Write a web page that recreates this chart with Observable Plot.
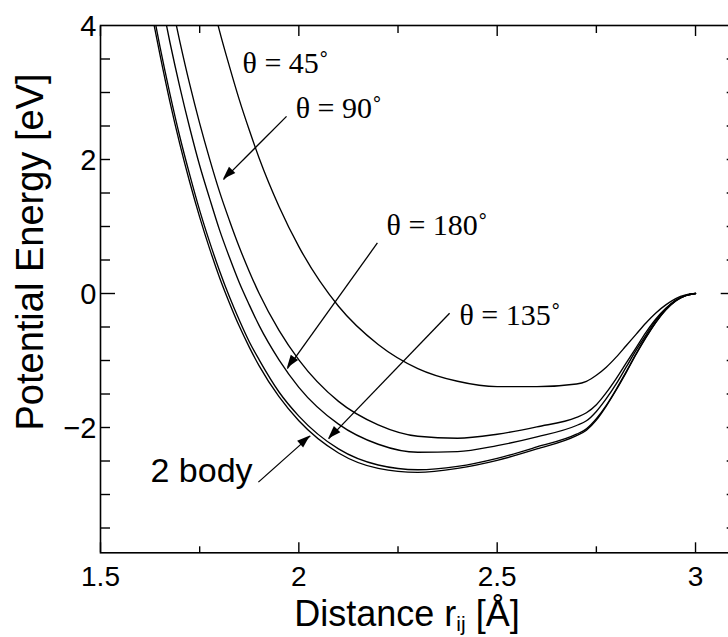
<!DOCTYPE html>
<html>
<head>
<meta charset="utf-8">
<script src="https://cdn.jsdelivr.net/npm/d3@7"></script>
<script src="https://cdn.jsdelivr.net/npm/@observablehq/plot@0.6"></script>
<style>
html, body { margin: 0; padding: 0; background: #fff; overflow: hidden; }
#chart svg { display: block; }
</style>
</head>
<body>
<div id="chart"></div>
<script>
// ---- data ----
const distance = [1.63, 1.65, 1.675, 1.70, 1.725, 1.75, 1.775, 1.80, 1.825, 1.85, 1.875, 1.90, 1.95, 2.00,
  2.10, 2.20, 2.30, 2.40, 2.50, 2.60, 2.70, 2.725, 2.75, 2.775, 2.80, 2.825, 2.85, 2.875, 2.90, 2.925, 2.95, 2.975, 3.00];
const energy2Body = [4.16, 3.56, 2.86, 2.23, 1.66, 1.14, 0.67, 0.24, -0.14, -0.49, -0.80, -1.08, -1.54, -1.90,
  -2.38, -2.61, -2.67, -2.61, -2.49, -2.32, -2.12, -2.04, -1.89, -1.68, -1.44, -1.18, -0.91, -0.66, -0.43, -0.245, -0.11, -0.03, 0];
const energy135 = [4.29, 3.68, 2.98, 2.34, 1.77, 1.24, 0.77, 0.34, -0.05, -0.40, -0.72, -0.99, -1.47, -1.83,
  -2.32, -2.56, -2.63, -2.58, -2.46, -2.29, -2.10, -2.02, -1.87, -1.67, -1.43, -1.17, -0.90, -0.65, -0.43, -0.24, -0.11, -0.03, 0];
const energy180 = [null, 4.48, 3.75, 3.08, 2.47, 1.91, 1.42, 0.95, 0.54, 0.16, -0.17, -0.48, -0.99, -1.40,
  -1.95, -2.25, -2.37, -2.36, -2.27, -2.14, -1.97, -1.90, -1.76, -1.57, -1.35, -1.10, -0.85, -0.62, -0.40, -0.23, -0.10, -0.03, 0];
const energy90 = [null, null, 4.45, 3.76, 3.12, 2.54, 2.01, 1.52, 1.09, 0.69, 0.33, 0.00, -0.55, -0.99,
  -1.61, -1.96, -2.13, -2.16, -2.10, -1.99, -1.85, -1.78, -1.66, -1.48, -1.27, -1.04, -0.81, -0.58, -0.38, -0.22, -0.10, -0.03, 0];
const energy45 = [null, null, null, null, null, null, 4.52, 3.92, 3.39, 2.89, 2.44, 2.02, 1.30, 0.70,
  -0.19, -0.76, -1.12, -1.31, -1.39, -1.39, -1.35, -1.31, -1.22, -1.10, -0.95, -0.78, -0.61, -0.44, -0.29, -0.17, -0.075, -0.02, 0];
const seriesNames = ["2 body", "θ = 135˚", "θ = 180˚", "θ = 90˚", "θ = 45˚"];
const seriesValues = [energy2Body, energy135, energy180, energy90, energy45];

const xTicks = [1.5, 2, 2.5, 3];
const xTickLabels = ["1.5", "2", "2.5", "3"];
const xMinorTicks = [1.75, 2.25, 2.75];
const yTicks = [-2, 0, 2, 4];
const yTickLabels = ["−2", "0", "2", "4"];
const yMinorTicks = [-3.5, -3, -2.5, -2, -1.5, -1, -0.5, 0.5, 1, 1.5, 2, 2.5, 3, 3.5];
const yZeroTick = [0];
const xDomain = [1.5, 3.1];
const yDomain = [-3.87, 4];

const xTitle = "Distance r";
const xTitleSub = "ij";
const xTitleEnd = " [Å]";
const yTitle = "Potential Energy [eV]";

// annotations (data units)
const labelText = ["θ = 45˚", "θ = 90˚", "θ = 180˚", "θ = 135˚"];
const labelX = [1.858, 1.992, 2.221, 2.405];
const labelY = [3.44, 2.757, 1.012, -0.33];
const bodyLabel = "2 body";
const bodyLabelX = 1.626;
const bodyLabelY = -2.65;
const arrowX1 = [1.969, 2.198, 2.380, 1.898];
const arrowY1 = [2.644, 0.754, -0.295, -2.815];
const arrowX2 = [1.810, 1.971, 2.075, 2.029];
const arrowY2 = [1.70, -1.12, -2.17, -2.125];

// ---- build tables ----
const curves = [];
seriesNames.forEach((name, s) => {
  distance.forEach((r, i) => {
    const e = seriesValues[s][i];
    if (e !== null) curves.push({series: name, r, e});
  });
});
const labels = labelText.map((t, i) => ({t, x: labelX[i], y: labelY[i]}));
const arrows = arrowX1.map((x1, i) => ({x1, y1: arrowY1[i], x2: arrowX2[i], y2: arrowY2[i]}));

const sans = "'Liberation Sans', Arial, Helvetica, sans-serif";
const serif = "'Liberation Serif', 'Times New Roman', Times, serif";

const plot = Plot.plot({
  width: 728,
  height: 637,
  marginLeft: 100,
  marginRight: -6.7,
  marginTop: 25,
  marginBottom: 84.7,
  x: {domain: xDomain, range: [100, 734.7], axis: null},
  y: {domain: yDomain, range: [552.3, 25], axis: null},
  style: {fontFamily: sans, background: "white", color: "black", overflow: "hidden"},
  marks: [
    Plot.frame({stroke: "black", strokeWidth: 1.6}),
    // inward ticks
    Plot.axisX(xTicks, {anchor: "bottom", tickSize: -10, fill: "none", label: null, strokeWidth: 1.4}),
    Plot.axisX(xMinorTicks, {anchor: "bottom", tickSize: -6, fill: "none", label: null, strokeWidth: 1.4}),
    Plot.axisX(xTicks, {anchor: "top", tickSize: -10, fill: "none", label: null, strokeWidth: 1.4}),
    Plot.axisX(xMinorTicks, {anchor: "top", tickSize: -7, fill: "none", label: null, strokeWidth: 1.4}),
    Plot.axisY(yMinorTicks, {anchor: "left", tickSize: -10, fill: "none", label: null, strokeWidth: 1.4}),
    Plot.axisY(yZeroTick, {anchor: "left", tickSize: -15, fill: "none", label: null, strokeWidth: 1.4}),
    Plot.axisY(yMinorTicks, {anchor: "right", tickSize: -9, fill: "none", label: null, strokeWidth: 1.4}),
    Plot.axisY(yZeroTick, {anchor: "right", tickSize: -15, fill: "none", label: null, strokeWidth: 1.4}),
    // tick labels
    Plot.text(xTicks, {x: d => d, y: () => yDomain[0], text: (d, i) => xTickLabels[i], dy: 24,
      fontSize: 28, fill: "black", lineAnchor: "middle"}),
    Plot.text(yTicks, {x: () => xDomain[0], y: d => d, text: (d, i) => yTickLabels[i], dx: -4, dy: 1,
      textAnchor: "end", fontSize: 29, fill: "black", lineAnchor: "middle"}),
    // curves
    Plot.line(curves, {x: "r", y: "e", z: "series", stroke: "black", strokeWidth: 1.35,
      curve: "monotone-x", clip: true}),
    // annotation arrows (shafts)
    Plot.link(arrows, {x1: "x1", y1: "y1", x2: "x2", y2: "y2", stroke: "black", strokeWidth: 1.3}),
    // annotation labels
    Plot.text(labels, {x: "x", y: "y", text: "t", textAnchor: "start", lineAnchor: "middle",
      fontFamily: serif, fontSize: 30, fill: "black"}),
    Plot.text([bodyLabel], {x: () => bodyLabelX, y: () => bodyLabelY, text: d => d, textAnchor: "start",
      lineAnchor: "middle", fontSize: 34, fill: "black"})
  ]
});

// arrowheads (filled), positioned through the plot's own scales
const sx = plot.scale("x"), sy = plot.scale("y");
const svg = d3.select(plot);
const headG = svg.append("g").attr("fill", "black");
arrows.forEach(a => {
  const px1 = sx.apply(a.x1), py1 = sy.apply(a.y1);
  const px2 = sx.apply(a.x2), py2 = sy.apply(a.y2);
  const dx = px2 - px1, dy = py2 - py1, len = Math.hypot(dx, dy);
  const ux = dx / len, uy = dy / len;
  const L = 13, Wd = 4.5;
  const bx = px2 - ux * L, by = py2 - uy * L;
  const pts = [[px2, py2], [bx - uy * Wd, by + ux * Wd], [bx + uy * Wd, by - ux * Wd]];
  headG.append("polygon").attr("points", pts.map(p => p.join(",")).join(" "));
});

// axis titles
const xt = svg.append("text")
  .attr("x", 407).attr("y", 626)
  .attr("text-anchor", "middle")
  .attr("font-family", sans).attr("font-size", 36).attr("fill", "black");
xt.append("tspan").text(xTitle);
xt.append("tspan").attr("font-size", 21).attr("dy", 5).text(xTitleSub);
xt.append("tspan").attr("dy", -5).text(xTitleEnd);

svg.append("text")
  .attr("transform", "translate(43,252) rotate(-90)")
  .attr("text-anchor", "middle")
  .attr("font-family", sans).attr("font-size", 38).attr("fill", "black")
  .text(yTitle);

document.getElementById("chart").appendChild(plot);
</script>
</body>
</html>
